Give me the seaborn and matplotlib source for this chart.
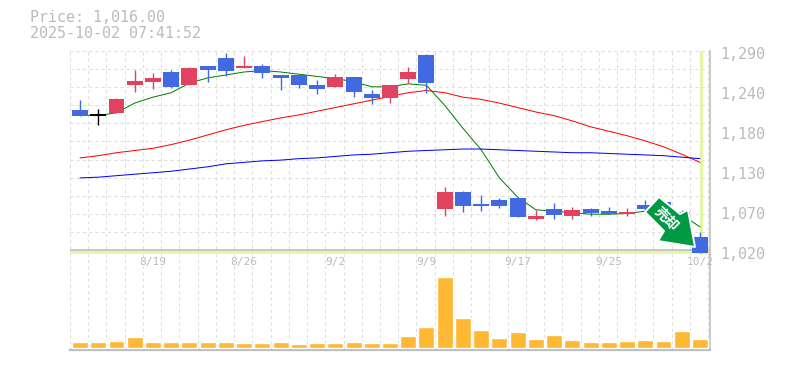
import seaborn as sns
import pandas as pd
import matplotlib.pyplot as plt
import numpy as np
from matplotlib.patches import Polygon

dates = ['8/13', '8/14', '8/15', '8/18', '8/19', '8/20', '8/21', '8/22', '8/25', '8/26', '8/27', '8/28',
         '8/29', '9/1', '9/2', '9/3', '9/4', '9/5', '9/8', '9/9', '9/10', '9/11', '9/12', '9/16', '9/17',
         '9/18', '9/19', '9/22', '9/24', '9/25', '9/26', '9/29', '9/30', '10/1', '10/2']
open_p = [1210, 1202, 1206, 1243, 1248, 1261, 1243, 1269, 1280, 1266, 1269, 1257, 1257, 1243, 1241, 1254, 1231, 1226,
          1252, 1284, 1076, 1099, 1083, 1088, 1091, 1063, 1076, 1067, 1076, 1073, 1069, 1081, 1085, 1072, 1038]
close_p = [1201, 1202, 1225, 1249, 1253, 1241, 1266, 1264, 1262, 1269, 1260, 1253, 1243, 1238, 1254, 1234, 1226, 1243,
           1261, 1246, 1099, 1080, 1080, 1080, 1065, 1067, 1068, 1075, 1071, 1069, 1072, 1076, 1072, 1048, 1016]
high_p = [1223, 1211, 1226, 1264, 1260, 1264, 1268, 1269, 1287, 1283, 1272, 1257, 1257, 1250, 1258, 1254, 1237, 1243,
          1268, 1285, 1106, 1100, 1095, 1091, 1091, 1075, 1084, 1079, 1077, 1079, 1077, 1088, 1088, 1075, 1045]
low_p = [1201, 1190, 1206, 1234, 1238, 1240, 1243, 1248, 1256, 1266, 1253, 1237, 1239, 1231, 1241, 1227, 1218, 1219,
         1246, 1233, 1067, 1072, 1073, 1077, 1065, 1061, 1063, 1063, 1067, 1069, 1067, 1073, 1068, 1040, 1016]
ma_short = [1203, 1202, 1206, 1219, 1227, 1233, 1246, 1253, 1257, 1261, 1263, 1261, 1258, 1255, 1252, 1248, 1241, 1241,
            1245, 1243, 1216, 1185, 1156, 1118, 1092, 1075, 1073, 1071, 1069, 1069, 1070, 1073, 1072, 1068, 1052]
ma_mid = [1145, 1148, 1152, 1155, 1158, 1163, 1169, 1176, 1183, 1189, 1194, 1199, 1203, 1208, 1213, 1218, 1223, 1228,
          1233, 1236, 1233, 1227, 1224, 1219, 1213, 1207, 1202, 1195, 1187, 1181, 1175, 1168, 1160, 1150, 1139]
ma_long = [1118, 1119, 1121, 1123, 1125, 1127, 1130, 1133, 1137, 1139, 1141, 1142, 1144, 1145, 1147, 1149, 1150, 1152,
           1154, 1155, 1156, 1157, 1157, 1156, 1155, 1154, 1153, 1152, 1152, 1151, 1150, 1149, 1148, 1146, 1144]
volume = [60, 60, 70, 110, 60, 60, 60, 60, 60, 50, 50, 60, 40, 50, 50, 60, 50, 50,
          120, 210, 710, 300, 180, 100, 160, 90, 130, 80, 60, 60, 70, 80, 70, 170, 90]
price_labels = ['1,290', '1,240', '1,180', '1,130', '1,070', '1,020']
price_ticks = [1290, 1236, 1182, 1128, 1074, 1020]
tick_days = ['8/19', '8/26', '9/2', '9/9', '9/17', '9/25', '10/2']

W, H = 785, 370
sns.set_style('white')
plt.rcParams['font.family'] = ['DejaVu Sans Mono', 'Noto Sans CJK JP']

GRAY = '#bbbbbb'
GRID = '#dddddd'
BLUE = '#4169e1'
RED = '#e04260'
BAND = '#e4f5a9'
DASH = (0, (3, 3))
idx = np.arange(len(dates))


def box(left, top, right, bottom):
    return [left / W, 1 - bottom / H, (right - left) / W, (bottom - top) / H]


def fig_xy(x, y):
    return x / W, 1 - y / H


fig = plt.figure(figsize=(W / 100, H / 100), dpi=100)
ax = fig.add_axes(box(70, 50.5, 710, 255))
ax_vol = fig.add_axes(box(70, 255, 710, 350))
ax_vol.patch.set_visible(False)

# volume
sns.barplot(x=dates, y=volume, color='#ffb833', saturation=1, width=0.877, ax=ax_vol, zorder=3)
ax_vol.set_ylim(-20, 930)

# moving averages
for series, col in [(ma_short, 'green'), (ma_mid, 'red'), (ma_long, 'blue')]:
    sns.lineplot(x=idx, y=series, color=col, linewidth=0.72, errorbar=None, ax=ax, zorder=3)

# last price crosshair
ax.axvline(idx[-1] + 0.03, color=BAND, linewidth=2.4, zorder=2)
ax.axhline(close_p[-1] + 1.5, color=BAND, linewidth=2.6, zorder=2)
ax.axhline(1020, color=GRAY, linewidth=1.1, zorder=2.5)

# candles
for i in idx:
    o, c = open_p[i], close_p[i]
    col = RED if c > o else BLUE if c < o else 'black'
    ax.vlines(i, low_p[i], high_p[i], color=col, linewidth=1.0, zorder=4)
    ax.bar(i, max(abs(c - o), 1.6), bottom=min(o, c), width=0.877, color=col, linewidth=0, zorder=4)

for a in (ax, ax_vol):
    a.set_xlim(-0.55, 34.55)
    a.set_xticks(np.append(idx, 35) - 0.55, minor=True)
    a.grid(True, which='minor', axis='x', color=GRID, linestyle=DASH, linewidth=0.75)
    a.set_axisbelow(True)
    a.set_xlabel('')
    a.set_ylabel('')
    a.tick_params(which='both', length=0)
    a.set_yticks([])
    for s in a.spines.values():
        s.set_visible(False)
    a.spines['right'].set_visible(True)
    a.spines['right'].set_color(GRAY)
    a.spines['right'].set_linewidth(1.1)

ax.set_ylim(1290 - 204.5 * 1.35, 1290)
ax.set_yticks(np.linspace(1020, 1290, 12))
ax.set_yticklabels([])
ax.grid(True, which='major', axis='y', color=GRID, linestyle=DASH, linewidth=0.75)
ax.set_xticks([dates.index(d) for d in tick_days])
ax.set_xticklabels(tick_days, fontsize=8, color=GRAY)
ax.tick_params(axis='x', pad=1.5)
ax.grid(False, which='major', axis='x')

ax_vol.set_xticks([])
ax_vol.spines['bottom'].set_visible(True)
ax_vol.spines['bottom'].set_color(GRAY)
ax_vol.spines['bottom'].set_linewidth(1.6)

for lab, p in zip(price_labels, price_ticks):
    ax.annotate(lab, xy=(1, p), xycoords=('axes fraction', 'data'), xytext=(10, -4),
                textcoords='offset pixels', fontsize=10.8, color=GRAY, va='center', annotation_clip=False)

fig.text(*fig_xy(30, 17.5), 'Price: 1,016.00', fontsize=10.8, color=GRAY, va='center')
fig.text(*fig_xy(30, 33.5), '2025-10-02 07:41:52', fontsize=10.8, color=GRAY, va='center')

# sell arrow
arrow_px = [(659, 197), (680, 214), (688, 210), (695, 247), (658, 241), (664, 231), (645, 212)]
fig.add_artist(Polygon([fig_xy(*p) for p in arrow_px], closed=True, transform=fig.transFigure,
                       facecolor='#009944', edgecolor='white', linewidth=1.4, joinstyle='round'))
fig.text(*fig_xy(666.5, 219), '売却', fontsize=10, color='white', fontweight='bold', rotation=-45,
         rotation_mode='anchor', ha='center', va='center', family=['Noto Sans CJK JP', 'DejaVu Sans'])

fig.savefig('out.png', dpi=100)
